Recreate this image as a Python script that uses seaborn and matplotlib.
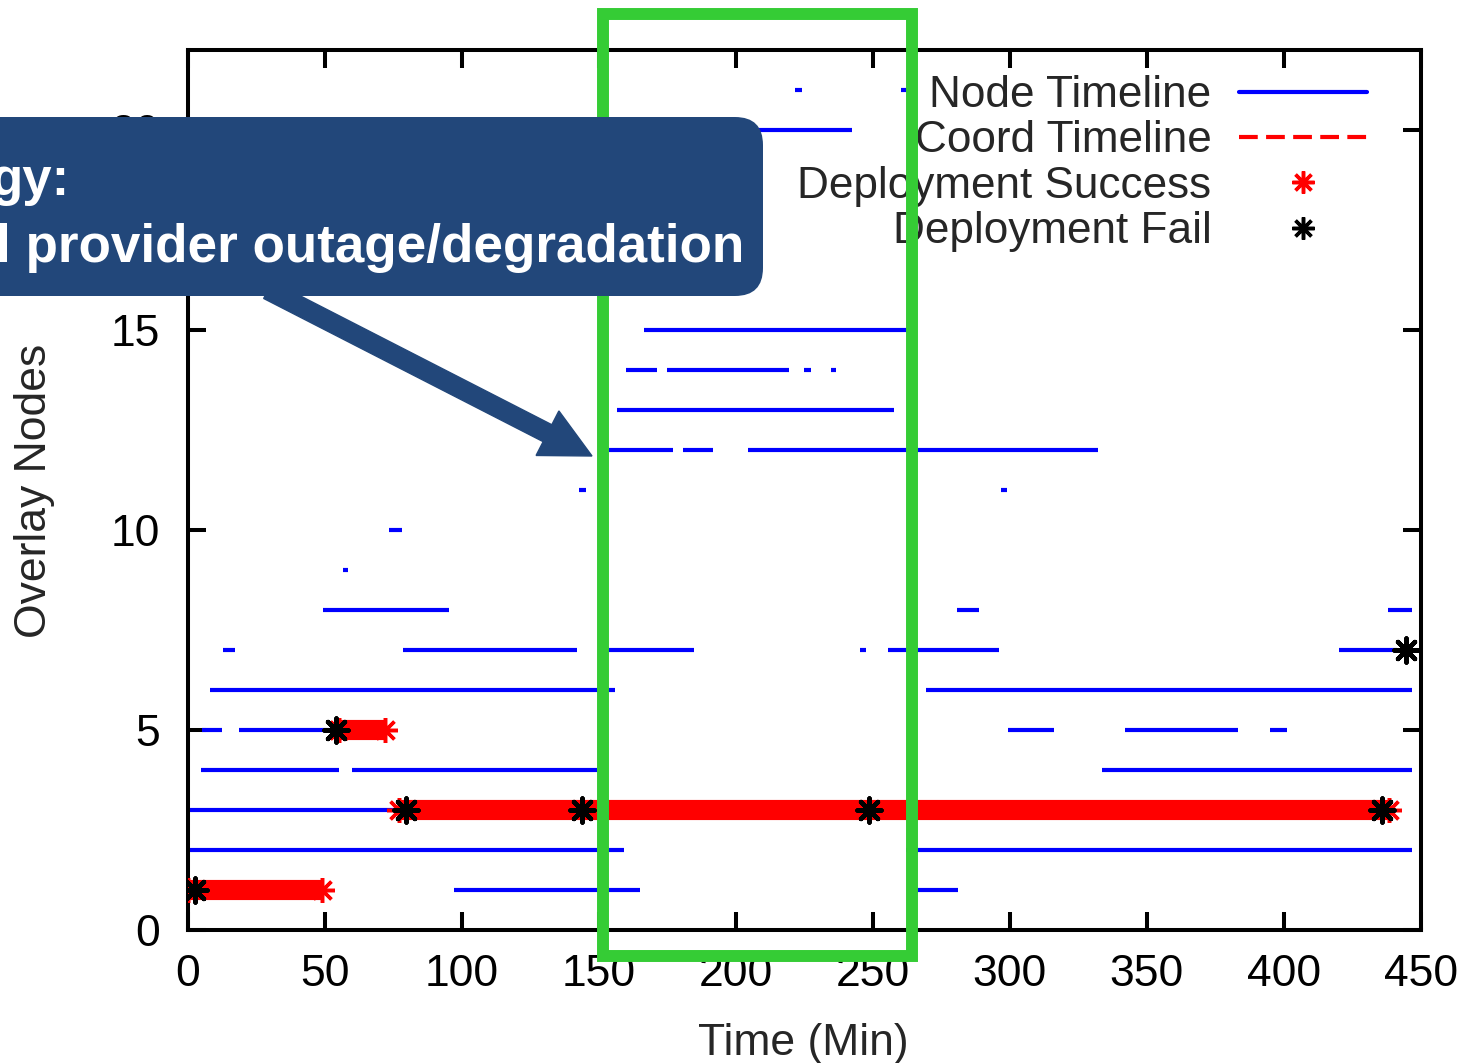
import matplotlib
matplotlib.use("Agg")
import matplotlib.pyplot as plt
import seaborn as sns
from matplotlib.lines import Line2D
from matplotlib.patches import Rectangle, FancyBboxPatch, FancyArrow

# === DATA ===
# node timeline segments: (overlay node row, start min, end min)
NODE_ROWS = [1, 1,
             2, 2,
             3,
             4, 4, 4,
             5, 5, 5, 5, 5,
             6, 6,
             7, 7, 7, 7, 7, 7,
             8, 8, 8,
             9, 10, 11, 11,
             12, 12, 12,
             13,
             14, 14, 14, 14,
             15,
             20,
             21, 21]
NODE_START = [97, 265,
              0.7, 262,
              0.7,
              4.6, 60, 333.5,
              5, 18.5, 299.5, 342, 395,
              8, 269.5,
              12.7, 78.4, 153.3, 245.3, 255.6, 420,
              49.4, 280.8, 438,
              56.5, 73.4, 142.8, 296.8,
              153.7, 180.7, 204.3,
              156.5,
              160, 174.9, 224.9, 234.9,
              166.3,
              160,
              221.6, 260.3]
NODE_END = [165, 281,
            159, 447,
            77,
            55.1, 149.3, 447,
            12.4, 54, 316, 383.4, 401.2,
            156, 447,
            17.2, 142, 184.7, 247.5, 296, 441.3,
            95.4, 288.8, 447,
            58.4, 78.1, 145.2, 299,
            177.1, 191.7, 332.3,
            257.8,
            171.1, 219.3, 227.5, 236.7,
            262.4,
            242.3,
            224, 262.9]

# runs of successful deployments (dense star bands)
SUCCESS_ROWS = [1, 3, 5]
SUCCESS_START = [0, 77, 55]
SUCCESS_END = [49, 438.5, 72]

# failed deployments
FAIL_X = [2.6, 79.6, 143.8, 248.6, 436, 54, 444.7]
FAIL_Y = [1, 3, 3, 3, 3, 5, 7]

X_TICKS = [0, 50, 100, 150, 200, 250, 300, 350, 400, 450]
Y_TICKS = [0, 5, 10, 15, 20]
LEGEND_LABELS = ["Node Timeline", "Coord Timeline", "Deployment Success", "Deployment Fail"]

CALLOUT_LINE1 = "gy:"
CALLOUT_LINE2 = "l provider outage/degradation"

W, H = 14.73, 10.63
STAR = (8, 2, 0)

sns.set_theme(style="ticks")
plt.rcParams["font.family"] = ["Liberation Sans", "DejaVu Sans"]

fig = plt.figure(figsize=(W, H), dpi=100)
ax = fig.add_axes([188 / 1473, 1 - 929.5 / 1063, (1420.7 - 188) / 1473, (929.5 - 50) / 1063])

# node timeline
ax.hlines(NODE_ROWS, NODE_START, NODE_END, colors="#0000ff", linewidth=3, zorder=2)

# success bands
for y, s, e in zip(SUCCESS_ROWS, SUCCESS_START, SUCCESS_END):
    ax.plot([s, e], [y, y], color="#ff0000", lw=14.5, solid_capstyle="butt", zorder=3)
    ax.plot([s, e], [y, y], ls="", marker=STAR, ms=18, mew=2.5, color="#ff0000", zorder=3)

# failures
sns.scatterplot(x=FAIL_X, y=FAIL_Y, marker=STAR, s=300, color="black",
                linewidth=3.2, ax=ax, zorder=4)

ax.set_xlim(0, 450)
ax.set_ylim(0, 22)
ax.set_xticks(X_TICKS)
ax.set_yticks(Y_TICKS)
ax.tick_params(direction="in", length=13, width=2.9, top=True, right=True,
               labelsize=32, colors="black")
ax.tick_params(axis="x", pad=18)
ax.tick_params(axis="y", pad=20)
for sp in ax.spines.values():
    sp.set_linewidth(2.9)
    sp.set_color("black")
    sp.set_visible(True)

ax.set_xlabel("Time (Min)", fontsize=32)
ax.set_ylabel("Overlay Nodes", fontsize=32)
ax.xaxis.set_label_coords(0.499, -0.106)
ax.yaxis.set_label_coords(-0.108, 0.4986)

handles = [
    Line2D([], [], color="#0000ff", lw=3),
    Line2D([], [], color="#ff0000", lw=3, ls=(0, (4.5, 2))),
    Line2D([], [], ls="", marker=STAR, ms=16, mew=2.5, color="#ff0000"),
    Line2D([], [], ls="", marker=STAR, ms=16, mew=2.5, color="black"),
]
ax.legend(handles, LEGEND_LABELS, loc="upper right", bbox_to_anchor=(1367 / 1473, 1 - 75 / 1063),
          bbox_transform=fig.transFigure, markerfirst=False, frameon=False, fontsize=31.8,
          handlelength=2.9, handletextpad=0.62, labelspacing=0.1, borderpad=0, borderaxespad=0)

# === OVERLAYS (inches, from bottom-left) ===
inch = fig.dpi_scale_trans
green = Rectangle((6.03, H - 9.56), 3.09, 9.42, fill=False, edgecolor="#35cc35",
                  linewidth=8.6, transform=inch, zorder=5)
fig.add_artist(green)

arrow = FancyArrow(2.68, H - 2.90, 3.24, -1.66, width=0.19, head_width=0.5, head_length=0.5,
                   length_includes_head=True, color="#22477a", transform=inch, zorder=6)
fig.add_artist(arrow)

box = FancyBboxPatch((-0.5, H - 2.96), 8.13, 1.79, boxstyle="round,pad=0,rounding_size=0.28",
                     facecolor="#22477a", edgecolor="none", transform=inch, zorder=6)
fig.add_artist(box)

fig.text(-0.09, H - 1.95, CALLOUT_LINE1, transform=inch, color="white", fontsize=38,
         fontweight="bold", va="baseline", ha="left", zorder=7)
fig.text(-0.04, H - 2.62, CALLOUT_LINE2, transform=inch, color="white", fontsize=38.2,
         fontweight="bold", va="baseline", ha="left", zorder=7)

fig.savefig("out.png", dpi=100)
